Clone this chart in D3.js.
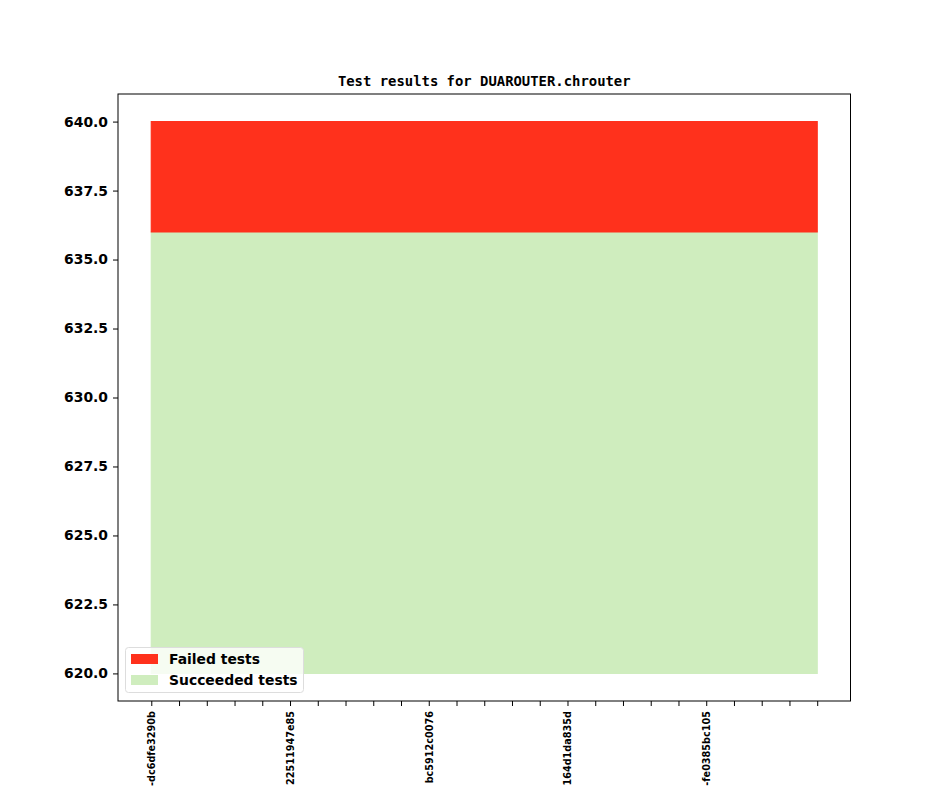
<!DOCTYPE html>
<html><head><meta charset="utf-8">
<script src="https://cdn.jsdelivr.net/npm/d3@7"></script>
<style>body{margin:0;background:#fff}svg{display:block}</style>
</head><body>
<svg id="c" width="944" height="787"></svg>
<script>
const title = "Test results for DUAROUTER.chrouter";
const commitIndex = [0,1,2,3,4,5,6,7,8,9,10,11,12,13,14,15,16,17,18,19,20,21,22,23,24];
const tickLabels = ["-dc6dfe3290b","","","","","22511947e85","","","","","bc5912c0076","","","","","164d1da835d","","","","","-fe0385bc105","","","",""];
const succeeded = [636,636,636,636,636,636,636,636,636,636,636,636,636,636,636,636,636,636,636,636,636,636,636,636,636];
const failed = [4,4,4,4,4,4,4,4,4,4,4,4,4,4,4,4,4,4,4,4,4,4,4,4,4];
const baseline = 620;
const yTicks = [620,622.5,625,627.5,630,632.5,635,637.5,640];
const seriesNames = ["Failed tests","Succeeded tests"];
const colors = {failed:"#ff311c", succeeded:"#cfedbe"};

const svg = d3.select("#c");
const L=118, R=850.5, T=94, B=701;
const font = "DejaVu Sans, sans-serif";

const x = d3.scaleLinear().domain([-1.2, 25.2]).range([L,R]);
const y = d3.scaleLinear().domain([619,641]).range([B,T]);

const data = commitIndex.map((c,i)=>({i:c, s:succeeded[i], f:failed[i]}));

const areaS = d3.area().x(d=>x(d.i)).y0(()=>y(baseline)).y1(d=>y(d.s));
const areaF = d3.area().x(d=>x(d.i)).y0(d=>y(d.s)).y1(d=>y(d.s+d.f));

svg.append("path").datum(data).attr("d",areaS).attr("fill",colors.succeeded)
  .attr("stroke",colors.succeeded).attr("stroke-width",1.2);
svg.append("path").datum(data).attr("d",areaF).attr("fill",colors.failed)
  .attr("stroke",colors.failed).attr("stroke-width",1.2);

// axes
const yAxis = d3.axisLeft(y).tickValues(yTicks).tickFormat(d3.format(".1f")).tickSize(5).tickPadding(5);
const gy = svg.append("g").attr("transform",`translate(${L},0)`).call(yAxis);
gy.select(".domain").remove();
gy.selectAll("text").attr("font-family",font).attr("font-weight","bold").attr("font-size","13.9px").attr("fill","#000");
gy.selectAll("line").attr("stroke","#000").attr("stroke-width",1);

const xAxis = d3.axisBottom(x).tickValues(commitIndex).tickFormat((d,i)=>tickLabels[i]).tickSize(5).tickPadding(5);
const gx = svg.append("g").attr("transform",`translate(0,${B})`).call(xAxis);
gx.select(".domain").remove();
gx.selectAll("line").attr("stroke","#000").attr("stroke-width",1);
gx.selectAll("text")
  .attr("font-family",font).attr("font-weight","bold").attr("font-size","9.7px").attr("fill","#000")
  .attr("text-anchor","end").attr("dy","0.35em")
  .attr("transform","translate(0,10) rotate(-90)").attr("x",0).attr("y",0);

svg.append("rect").attr("x",L).attr("y",T).attr("width",R-L).attr("height",B-T)
  .attr("fill","none").attr("stroke","#000").attr("stroke-width",1);

svg.append("text").attr("x",(L+R)/2).attr("y",86).attr("text-anchor","middle")
  .attr("font-family","DejaVu Sans Mono, monospace").attr("font-weight","bold").attr("font-size","13.9px")
  .text(title);

// legend
const lg = svg.append("g");
lg.append("rect").attr("x",125.5).attr("y",647.5).attr("width",178).attr("height",45).attr("rx",3)
  .attr("fill","#fff").attr("fill-opacity",0.8).attr("stroke","#dddddd").attr("stroke-width",1);
[ [seriesNames[0],colors.failed], [seriesNames[1],colors.succeeded] ].forEach((e,k)=>{
  const yy = 654 + k*21;
  lg.append("rect").attr("x",131).attr("y",yy).attr("width",27).attr("height",10).attr("fill",e[1]);
  lg.append("text").attr("x",169).attr("y",yy+10).attr("font-family",font).attr("font-weight","bold")
    .attr("font-size","13.9px").text(e[0]);
});
</script>
</body></html>
